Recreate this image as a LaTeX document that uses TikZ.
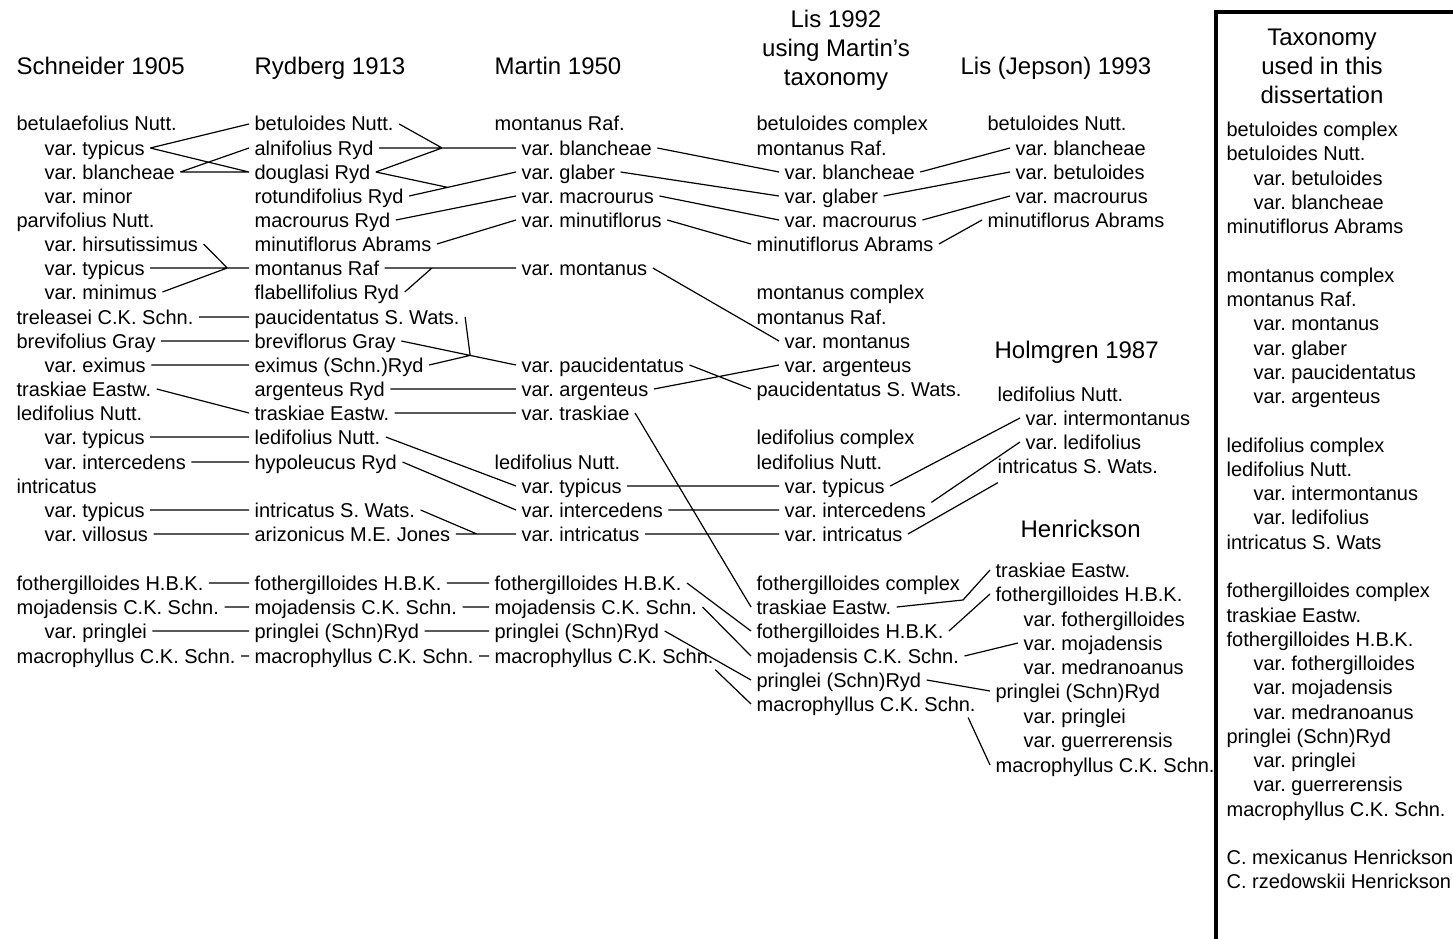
\documentclass[tikz,border=0pt]{standalone}
\usepackage{fontspec}
\setmainfont{Liberation Sans}
\usetikzlibrary{calc}
\frenchspacing
\tikzset{ t/.style  = { anchor      = west
                      , inner xsep  = 5pt
                      , inner ysep  = 0pt
                      , text height = 14pt
                      , text depth  = 0pt
                      , font        = \fontsize{20}{24}\selectfont
                      },
          hd/.style = { anchor      = west
                      , inner sep   = 0pt
                      , text height = 17pt
                      , text depth  = 0pt
                      , font        = \fontsize{24}{29}\selectfont
                      },
          ttl/.style = { align     = center
                       , inner sep = 0pt
                       , font      = \fontsize{24}{29}\selectfont
                       }
        }
\begin{document}
\begin{tikzpicture}[x=1pt, y=-1pt, line width=1.2pt]
      \useasboundingbox (0,0) rectangle (1453,939);
      \node[hd] (ha) at (16,66) {Schneider 1905};
      \node[hd] (hb) at (254,66) {Rydberg 1913};
      \node[hd] (hc) at (494,66) {Martin 1950};
      \node[ttl] (hd) at (836,50) {Lis 1992\\using Martin’s\\taxonomy};
      \node[hd] (he) at (960,66) {Lis (Jepson) 1993};
      \node[hd] (hh) at (994,350) {Holmgren 1987};
      \node[hd] (hk) at (1020,529) {Henrickson};
      \node[ttl] (hx) at (1322,66) {Taxonomy\\used in this\\dissertation};
      %column a
       \node[t] (a0)  at (11,124) {betulaefolius Nutt.};
       \node[t] (a1)  at (39,148) {var. typicus};
       \node[t] (a2)  at (39,172) {var. blancheae};
       \node[t] (a3)  at (39,196) {var. minor};
       \node[t] (a4)  at (11,220) {parvifolius Nutt.};
       \node[t] (a5)  at (39,244) {var. hirsutissimus};
       \node[t] (a6)  at (39,268) {var. typicus};
       \node[t] (a7)  at (39,292) {var. minimus};
       \node[t] (a8)  at (11,317) {treleasei C.K. Schn.};
       \node[t] (a9)  at (11,341) {brevifolius Gray};
       \node[t] (a10) at (39,365) {var. eximus};
       \node[t] (a11) at (11,389) {traskiae Eastw.};
       \node[t] (a12) at (11,413) {ledifolius Nutt.};
       \node[t] (a13) at (39,437) {var. typicus};
       \node[t] (a14) at (39,462) {var. intercedens};
       \node[t] (a15) at (11,486) {intricatus};
       \node[t] (a16) at (39,510) {var. typicus};
       \node[t] (a17) at (39,534) {var. villosus};
       \node[t] (a19) at (11,583) {fothergilloides H.B.K.};
       \node[t] (a20) at (11,607) {mojadensis C.K. Schn.};
       \node[t] (a21) at (39,631) {var. pringlei};
       \node[t] (a22) at (11,656) {macrophyllus C.K. Schn.};
      %column b
       \node[t] (b0)  at (249,124) {betuloides Nutt.};
       \node[t] (b1)  at (249,148) {alnifolius Ryd};
       \node[t] (b2)  at (249,172) {douglasi Ryd};
       \node[t] (b3)  at (249,196) {rotundifolius Ryd};
       \node[t] (b4)  at (249,220) {macrourus Ryd};
       \node[t] (b5)  at (249,244) {minutiflorus Abrams};
       \node[t] (b6)  at (249,268) {montanus Raf};
       \node[t] (b7)  at (249,292) {flabellifolius Ryd};
       \node[t] (b8)  at (249,317) {paucidentatus S. Wats.};
       \node[t] (b9)  at (249,341) {breviflorus Gray};
       \node[t] (b10) at (249,365) {eximus (Schn.)Ryd};
       \node[t] (b11) at (249,389) {argenteus Ryd};
       \node[t] (b12) at (249,413) {traskiae Eastw.};
       \node[t] (b13) at (249,437) {ledifolius Nutt.};
       \node[t] (b14) at (249,462) {hypoleucus Ryd};
       \node[t] (b16) at (249,510) {intricatus S. Wats.};
       \node[t] (b17) at (249,534) {arizonicus M.E. Jones};
       \node[t] (b19) at (249,583) {fothergilloides H.B.K.};
       \node[t] (b20) at (249,607) {mojadensis C.K. Schn.};
       \node[t] (b21) at (249,631) {pringlei (Schn)Ryd};
       \node[t] (b22) at (249,656) {macrophyllus C.K. Schn.};
      %column c
       \node[t] (c0)  at (489,124) {montanus Raf.};
       \node[t] (c1)  at (516,148) {var. blancheae};
       \node[t] (c2)  at (516,172) {var. glaber};
       \node[t] (c3)  at (516,196) {var. macrourus};
       \node[t] (c4)  at (516,220) {var. minutiflorus};
       \node[t] (c6)  at (516,268) {var. montanus};
       \node[t] (c10) at (516,365) {var. paucidentatus};
       \node[t] (c11) at (516,389) {var. argenteus};
       \node[t] (c12) at (516,413) {var. traskiae};
       \node[t] (c14) at (489,462) {ledifolius Nutt.};
       \node[t] (c15) at (516,486) {var. typicus};
       \node[t] (c16) at (516,510) {var. intercedens};
       \node[t] (c17) at (516,534) {var. intricatus};
       \node[t] (c19) at (489,583) {fothergilloides H.B.K.};
       \node[t] (c20) at (489,607) {mojadensis C.K. Schn.};
       \node[t] (c21) at (489,631) {pringlei (Schn)Ryd};
       \node[t] (c22) at (489,656) {macrophyllus C.K. Schn.};
      %column d
       \node[t] (d0)  at (751,124) {betuloides complex};
       \node[t] (d1)  at (751,148) {montanus Raf.};
       \node[t] (d2)  at (779,172) {var. blancheae};
       \node[t] (d3)  at (779,196) {var. glaber};
       \node[t] (d4)  at (779,220) {var. macrourus};
       \node[t] (d5)  at (751,244) {minutiflorus Abrams};
       \node[t] (d7)  at (751,292) {montanus complex};
       \node[t] (d8)  at (751,317) {montanus Raf.};
       \node[t] (d9)  at (779,341) {var. montanus};
       \node[t] (d10) at (779,365) {var. argenteus};
       \node[t] (d11) at (751,389) {paucidentatus S. Wats.};
       \node[t] (d13) at (751,437) {ledifolius complex};
       \node[t] (d14) at (751,462) {ledifolius Nutt.};
       \node[t] (d15) at (779,486) {var. typicus};
       \node[t] (d16) at (779,510) {var. intercedens};
       \node[t] (d17) at (779,534) {var. intricatus};
       \node[t] (d19) at (751,583) {fothergilloides complex};
       \node[t] (d20) at (751,607) {traskiae Eastw.};
       \node[t] (d21) at (751,631) {fothergilloides H.B.K.};
       \node[t] (d22) at (751,656) {mojadensis C.K. Schn.};
       \node[t] (d23) at (751,680) {pringlei (Schn)Ryd};
       \node[t] (d24) at (751,704) {macrophyllus C.K. Schn.};
      %column e
       \node[t] (e0) at (982,124) {betuloides Nutt.};
       \node[t] (e1) at (1010,148) {var. blancheae};
       \node[t] (e2) at (1010,172) {var. betuloides};
       \node[t] (e3) at (1010,196) {var. macrourus};
       \node[t] (e4) at (982,220) {minutiflorus Abrams};
      %column h
       \node[t] (h0) at (992,394) {ledifolius Nutt.};
       \node[t] (h1) at (1020,418) {var. intermontanus};
       \node[t] (h2) at (1020,442) {var. ledifolius};
       \node[t] (h3) at (992,466) {intricatus S. Wats.};
      %column k
       \node[t] (k0) at (990,570) {traskiae Eastw.};
       \node[t] (k1) at (990,594) {fothergilloides H.B.K.};
       \node[t] (k2) at (1018,619) {var. fothergilloides};
       \node[t] (k3) at (1018,643) {var. mojadensis};
       \node[t] (k4) at (1018,667) {var. medranoanus};
       \node[t] (k5) at (990,691) {pringlei (Schn)Ryd};
       \node[t] (k6) at (1018,716) {var. pringlei};
       \node[t] (k7) at (1018,740) {var. guerrerensis};
       \node[t] (k8) at (990,765) {macrophyllus C.K. Schn.};
      %box
      \draw[line width=4pt] (1460,12) -- (1216,12) -- (1216,945);
      \node[anchor=north west, inner sep=0pt, align=left,
            font=\fontsize{20}{24.27}\selectfont] (tax) at (1226,121.5)
           {betuloides complex\\
            betuloides Nutt.\\
            \hspace*{27pt}var. betuloides\\
            \hspace*{27pt}var. blancheae\\
            minutiflorus Abrams\\[24.27pt]
            montanus complex\\
            montanus Raf.\\
            \hspace*{27pt}var. montanus\\
            \hspace*{27pt}var. glaber\\
            \hspace*{27pt}var. paucidentatus\\
            \hspace*{27pt}var. argenteus\\[24.27pt]
            ledifolius complex\\
            ledifolius Nutt.\\
            \hspace*{27pt}var. intermontanus\\
            \hspace*{27pt}var. ledifolius\\
            intricatus S. Wats\\[24.27pt]
            fothergilloides complex\\
            traskiae Eastw.\\
            fothergilloides H.B.K.\\
            \hspace*{27pt}var. fothergilloides\\
            \hspace*{27pt}var. mojadensis\\
            \hspace*{27pt}var. medranoanus\\
            pringlei (Schn)Ryd\\
            \hspace*{27pt}var. pringlei\\
            \hspace*{27pt}var. guerrerensis\\
            macrophyllus C.K. Schn.\\[24.27pt]
            C. mexicanus Henrickson\\
            C. rzedowskii Henrickson};
      \coordinate (j1) at ($(b1.east)!0.46!(c1.west)$);
      \coordinate (j2) at ($(b3.east)!0.36!(c2.west)$);
      \coordinate (j3) at ($(a6.east)!0.78!(b6.west)$);
      \coordinate (j4) at ($(b9.east)!0.6!(c10.west)$);
      \coordinate (j5) at ($(b17.east)!0.35!(c17.west)$);
      \coordinate (j6) at ($(b6.east)!0.36!(c6.west)$);
      \coordinate (j7) at (963,600);
      \draw (a1.east)--(b0.west)  (a1.east)--(b2.west)  (a2.east)--(b1.west)  (a2.east)--(b2.west)
            (a5.east)--(j3)  (a6.east)--(b6.west)  (a7.east)--(j3)
            (a8.east)--(b8.west)  (a9.east)--(b9.west)  (a10.east)--(b10.west)
            (a11.east)--(b12.west)  (a13.east)--(b13.west)  (a14.east)--(b14.west)
            (a16.east)--(b16.west)  (a17.east)--(b17.west)
            (a19.east)--(b19.west)  (a20.east)--(b20.west)  (a21.east)--(b21.west)
            (a22.east)--(b22.west);
      \draw (b0.east)--(j1)  (b1.east)--(c1.west)  (b2.east)--(j1)  (b2.east)--(j2)
            (b3.east)--(c2.west)  (b4.east)--(c3.west)  (b5.east)--(c4.west)
            (b6.east)--(c6.west)  (b7.east)--(j6)
            (b8.east)--(j4)  (b9.east)--(c10.west)  (b10.east)--(j4)
            (b11.east)--(c11.west)  (b12.east)--(c12.west)
            (b13.east)--(c15.west)  (b14.east)--(c16.west)
            (b16.east)--(j5)  (b17.east)--(c17.west)
            (b19.east)--(c19.west)  (b20.east)--(c20.west)  (b21.east)--(c21.west)
            (b22.east)--(c22.west);
      \draw (c1.east)--(d2.west)  (c2.east)--(d3.west)  (c3.east)--(d4.west)  (c4.east)--(d5.west)
            (c6.east)--(d9.west)  (c10.east)--(d11.west)  (c11.east)--(d10.west)
            (c12.east)--(d20.west)
            (c15.east)--(d15.west)  (c16.east)--(d16.west)  (c17.east)--(d17.west)
            (c19.east)--(d21.west)  (c20.east)--(d22.west)  (c21.east)--(d23.west)
            ($(c22.south east)+(-4,6)$)--(d24.west);
      \draw (d2.east)--(e1.west)  (d3.east)--(e2.west)  (d4.east)--(e3.west)  (d5.east)--(e4.west)
            (d15.east)--(h1.west)  (d16.north east)--(h2.west)
            (d17.east)--($(h3.south west)+(6,9)$)
            (d20.east)--(j7)--(k0.west)  (d21.east)--(k1.west)  (d22.east)--(k3.west)
            (d23.east)--(k5.west)  ($(d24.south east)+(-13,6)$)--(k8.west);
\end{tikzpicture}
\end{document}
